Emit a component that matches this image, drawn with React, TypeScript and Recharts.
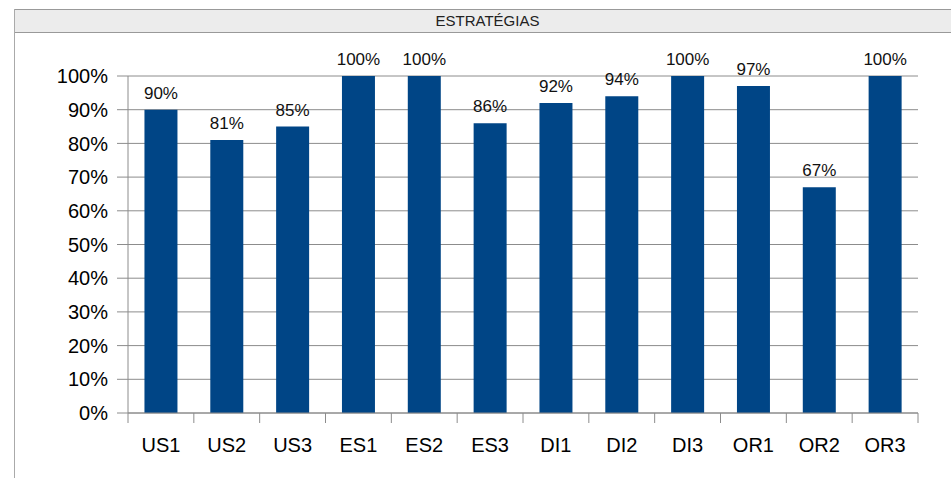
import { BarChart, Bar, XAxis, YAxis, CartesianGrid, LabelList } from "recharts";

const FONT = '"Liberation Sans", Arial, sans-serif';
const BAR = "#004586";
const LINE = "#8c8c8c";

const categories = ["US1", "US2", "US3", "ES1", "ES2", "ES3", "DI1", "DI2", "DI3", "OR1", "OR2", "OR3"];
const values = [90, 81, 85, 100, 100, 86, 92, 94, 100, 97, 67, 100];
const yTicks = [0, 10, 20, 30, 40, 50, 60, 70, 80, 90, 100];

const data = categories.map((name, i) => ({ name, value: values[i] }));

function CategoryTick(props: any) {
  const { x, y, payload, index, visibleTicksCount, width } = props;
  const half = payload.offset ?? width / visibleTicksCount / 2;
  const last = index === visibleTicksCount - 1;
  return (
    <g>
      <line x1={x - half} y1={y} x2={x - half} y2={y + 10} stroke={LINE} />
      {last && <line x1={x + half} y1={y} x2={x + half} y2={y + 10} stroke={LINE} />}
      <text x={x} y={y + 39} textAnchor="middle" fontSize={20} fill="#000" fontFamily={FONT}>
        {payload.value}
      </text>
    </g>
  );
}

export default function App() {
  return (
    <div style={{ position: "absolute", left: 0, top: 0, width: 951, height: 478, background: "#fff", overflow: "hidden" }}>
      <div
        style={{
          position: "absolute",
          left: 14,
          top: 9,
          width: 945,
          height: 22,
          background: "#ececec",
          borderTop: "1px solid #999",
          borderBottom: "1px solid #999",
          borderLeft: "1px solid #999",
          textAlign: "center",
          fontFamily: FONT,
          fontSize: 15,
          lineHeight: "22px",
          color: "#222",
          paddingRight: 6,
          boxSizing: "content-box",
        }}
      >
        ESTRATÉGIAS
      </div>
      <div style={{ position: "absolute", left: 14, top: 9, width: 0, height: 470, borderLeft: "1px solid #aaa" }} />
      <div style={{ position: "absolute", left: 0, top: 0 }}>
        <BarChart
          width={951}
          height={478}
          data={data}
          margin={{ top: 76, right: 33, bottom: 15, left: 0 }}
          barCategoryGap="25%"
          style={{ fontFamily: FONT }}
        >
          <CartesianGrid vertical={false} stroke={LINE} />
          <XAxis
            dataKey="name"
            height={50}
            tickLine={false}
            tickSize={0}
            tickMargin={0}
            axisLine={{ stroke: LINE }}
            interval={0}
            tick={<CategoryTick />}
          />
          <YAxis
            width={128}
            domain={[0, 100]}
            ticks={yTicks}
            interval={0}
            tickFormatter={(v: number) => `${v}%`}
            tickSize={11}
            tickMargin={9}
            axisLine={{ stroke: LINE }}
            tickLine={{ stroke: LINE }}
            tick={{ fontSize: 20, fill: "#000", fontFamily: FONT }}
          />
          <YAxis
            yAxisId="frame"
            orientation="right"
            width={0}
            tick={false}
            tickLine={false}
            axisLine={{ stroke: LINE }}
          />
          <Bar dataKey="value" fill={BAR} isAnimationActive={false}>
            <LabelList
              dataKey="value"
              position="top"
              offset={11}
              formatter={(v: any) => `${v}%`}
              style={{ fontSize: 17, fill: "#111", fontFamily: FONT }}
            />
          </Bar>
        </BarChart>
      </div>
    </div>
  );
}
